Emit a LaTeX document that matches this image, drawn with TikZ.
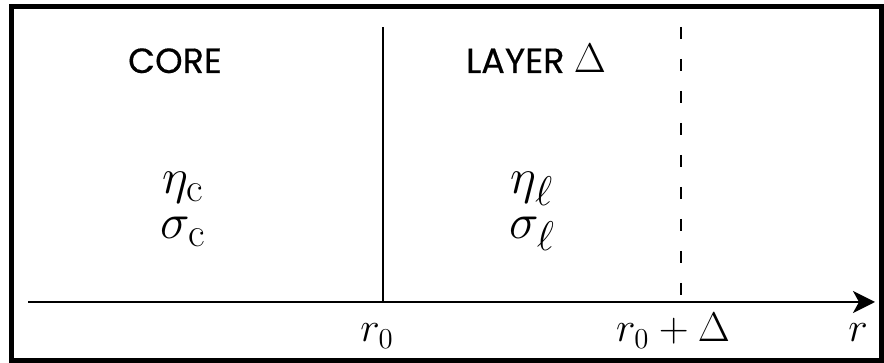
\documentclass[tikz,border=0pt]{standalone}
\usepackage{amsmath,amssymb}
\usepackage{fontspec}
\newfontfamily\geofont[FakeBold=0.4]{Poppins}
\usepackage{tikz}
\usetikzlibrary{arrows.meta,positioning}

\begin{document}
\begin{tikzpicture}[x=0.5pt,y=0.5pt,
  lbl/.style={anchor=base,inner sep=0pt,font=\fontsize{22}{26}\selectfont},
  prop/.style={anchor=base,inner sep=0pt,font=\fontsize{29}{34}\selectfont},
  region/.style={anchor=base,inner sep=0pt,font=\geofont\fontsize{17.5}{21}\selectfont}]
\useasboundingbox (0,0) rectangle (884,363);
\draw[line width=2.5pt] (11,2.5) rectangle (881.5,356.5);
% axis and boundaries
\coordinate (a0) at (28,61);
\coordinate (a1) at (875,61);
\coordinate (b0) at (383,61);
\coordinate (b1) at (383,336);
\coordinate (d0) at (681,61);
\coordinate (d1) at (681,336);
\draw[line width=1.1pt,-{Stealth[length=11pt,width=11pt,inset=3pt]}] (a0)--(a1);
\draw[line width=1.1pt] (b0)--(b1);
\draw[line width=1.1pt,dash pattern=on 6pt off 10pt] (d1)--(d0);
% regions
\node[region] (core) at (175,290) {CORE};
\node[region] (layer) at (536,290) {LAYER {\fontsize{21}{25}\selectfont$\Delta$}};
\node[prop] (etac) at (183,169) {$\eta_{\mathrm{c}}$};
\node[prop] (sigc) at (183,124) {$\sigma_{\mathrm{c}}$};
\node[prop] (etal) at (532,169) {$\eta_{\ell}$};
\node[prop] (sigl) at (532,124) {$\sigma_{\ell}$};
% ticks
\node[lbl] (rzero) at (377,21) {$r_0$};
\node[lbl] (rdelta) at (673,21) {$r_0+\Delta$};
\node[lbl] (rr) at (858,21) {$r$};
\end{tikzpicture}
\end{document}
